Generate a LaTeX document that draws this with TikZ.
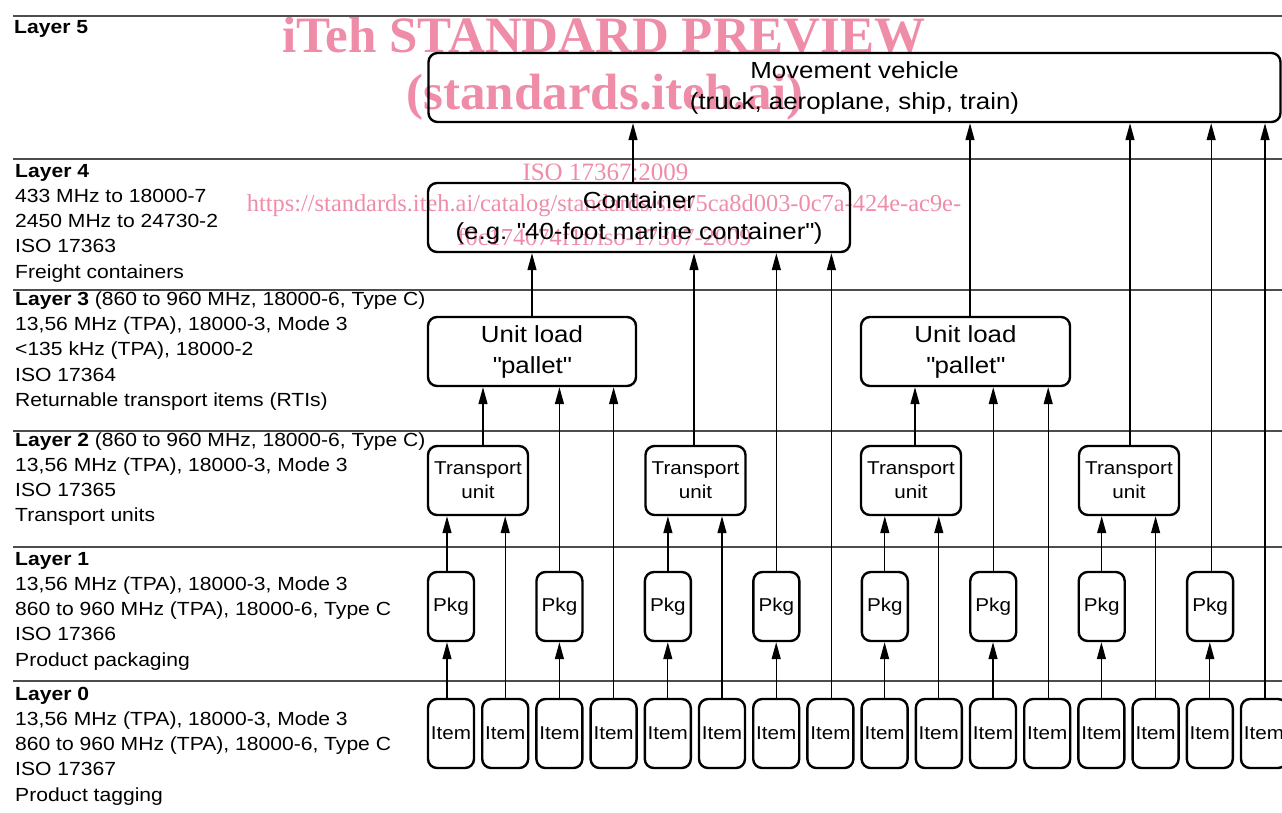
\documentclass[tikz,border=0pt]{standalone}
\usepackage{fontspec}
\setmainfont{Liberation Sans}[FakeStretch=1.11]
\newfontfamily\wmserif{Liberation Serif}
\usetikzlibrary{arrows.meta}
\definecolor{wmpink}{RGB}{239,140,168}
\definecolor{rulegray}{RGB}{77,77,77}
\newcommand{\dq}{\textquotedbl}

\begin{document}
\begin{tikzpicture}[x=1pt,y=-1pt,
  box/.style={draw=black, line width=2.4pt, rounded corners=9pt, inner sep=0pt,
              minimum height=69pt, align=center},
  bigtxt/.style={font=\fontsize{23.3}{31}\selectfont},
  smalltxt/.style={font=\fontsize{18.6}{24}\selectfont},
  conn/.style={line width=1.3pt, -{Triangle[length=17pt,width=9pt]}},
  layerrule/.style={draw=rulegray, line width=2pt},
  lbl/.style={anchor=base west, inner sep=0pt, align=left,
              font=\fontsize{19}{25.3}\selectfont},
  wm/.style={text=wmpink, inner sep=0pt, anchor=base},
  wmbig/.style={wm, font=\wmserif\bfseries\fontsize{51}{51}\selectfont},
  wmiso/.style={wm, font=\wmserif\fontsize{25}{25}\selectfont},
  wmurl/.style={wm, font=\wmserif\fontsize{24.4}{25}\selectfont}
]
\useasboundingbox (0,0) rectangle (1282,812);

% background stamp
\node[wmbig] (wm1) at (604,52) {iTeh STANDARD PREVIEW};
\node[wmbig] (wm2) at (605,109) {(standards.iteh.ai)};
\node[wmiso] (wm3) at (605.5,180) {ISO 17367:2009};
\draw[wmpink, line width=1.2pt] ([yshift=-2.5pt]wm3.base west) -- ([yshift=-2.5pt]wm3.base east);
\node[wmurl] (wm4) at (604,211.7) {https://standards.iteh.ai/catalog/standards/sist/5ca8d003-0c7a-424e-ac9e-};
\node[wmurl] (wm5) at (604.5,245) {f0c174074f1f/iso-17367-2009};

% layer separators
\foreach \yy in {16,158.5,289.5,430.5,547,681}
  \draw[layerrule] (13,\yy) -- (1282,\yy);

% layer descriptions (anchored at the baseline of their last line)
\node[lbl] (lay5) at (14,33) {\textbf{Layer 5}};
\node[lbl] (lay4) at (15,278.2) {\textbf{Layer 4}\\433 MHz to 18000-7\\2450 MHz to 24730-2\\ISO 17363\\Freight containers};
\node[lbl] (lay3) at (15,406.5) {\textbf{Layer 3} (860 to 960 MHz, 18000-6, Type C)\\13,56 MHz (TPA), 18000-3, Mode 3\\<135 kHz (TPA), 18000-2\\ISO 17364\\Returnable transport items (RTIs)};
\node[lbl] (lay2) at (15,521.9) {\textbf{Layer 2} (860 to 960 MHz, 18000-6, Type C)\\13,56 MHz (TPA), 18000-3, Mode 3\\ISO 17365\\Transport units};
\node[lbl] (lay1) at (15,666.2) {\textbf{Layer 1}\\13,56 MHz (TPA), 18000-3, Mode 3\\860 to 960 MHz (TPA), 18000-6, Type C\\ISO 17366\\Product packaging};
\node[lbl] (lay0) at (15,801.2) {\textbf{Layer 0}\\13,56 MHz (TPA), 18000-3, Mode 3\\860 to 960 MHz (TPA), 18000-6, Type C\\ISO 17367\\Product tagging};

% containment boxes
\node[box,bigtxt,minimum width=852pt] (veh) at (854.5,87.5) {Movement vehicle\\(truck, aeroplane, ship, train)};
\node[box,bigtxt,minimum width=422pt] (cont) at (639,217.5) {Container\\(e.g. \dq40-foot marine container\dq)};
\node[box,bigtxt,minimum width=208pt] (ul1) at (532,351.5) {Unit load\\\dq pallet\dq};
\node[box,bigtxt,minimum width=209pt] (ul2) at (965.5,351.5) {Unit load\\\dq pallet\dq};
\node[box,smalltxt,minimum width=100pt] (tu1) at (478,480.5) {Transport\\unit};
\node[box,smalltxt,minimum width=100pt] (tu2) at (695.5,480.5) {Transport\\unit};
\node[box,smalltxt,minimum width=100pt] (tu3) at (911,480.5) {Transport\\unit};
\node[box,smalltxt,minimum width=100pt] (tu4) at (1129,480.5) {Transport\\unit};
\foreach \i in {1,...,8}
  \node[box,smalltxt,minimum width=46pt] (pk\i) at ({451+108.45*(\i-1)},606.5) {Pkg};
\foreach \j in {1,...,16}
  \node[box,smalltxt,minimum width=46pt] (it\j) at ({451+54.2*(\j-1)},733.5) {Item};

% upward links: source / target / horizontal offset of the line
\foreach \a/\b/\s in {it1/pk1/-4, it3/pk2/0, it5/pk3/0, it7/pk4/0,
                      it9/pk5/0, it11/pk6/0, it13/pk7/0, it15/pk8/0,
                      it2/tu1/0, it4/ul1/0, it6/tu2/0, it8/cont/1,
                      it10/tu3/0, it12/ul2/1, it14/tu4/0, it16/veh/1,
                      pk1/tu1/-4, pk2/ul1/0, pk3/tu2/0, pk4/cont/0,
                      pk5/tu3/0, pk6/ul2/0, pk7/tu4/0, pk8/veh/1,
                      tu1/ul1/5, tu2/cont/-1.5, tu3/ul2/4, tu4/veh/1,
                      ul1/cont/0, ul2/veh/4.5, cont/veh/-6}
{
  \coordinate (src) at ([xshift=\s pt]\a.north);
  \draw[conn] (src) -- (src |- \b.south);
}
\end{tikzpicture}
\end{document}
